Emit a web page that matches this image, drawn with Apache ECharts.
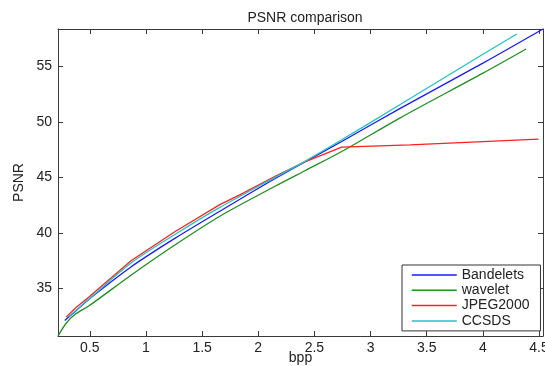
<!DOCTYPE html>
<html>
<head>
<meta charset="utf-8">
<script src="https://cdn.jsdelivr.net/npm/echarts@6/dist/echarts.min.js"></script>
<style>html,body{margin:0;padding:0;background:#fff;}#c{width:545px;height:366px;}</style>
</head>
<body>
<div id="c"></div>
<script>
var xTicks = [0.5, 1, 1.5, 2, 2.5, 3, 3.5, 4, 4.5];
var yTicks = [35, 40, 45, 50, 55];
var xRange = [0.217, 4.535];
var yRange = [30.7, 58.38];

var bandelets = [[0.277,32.1],[0.375,32.95],[0.49,34.0],[0.87,36.95],[1.257,39.5],[1.658,41.95],[2.15,44.9],[2.415,46.4],[2.743,48.24],[3.26,51.2],[4.0,55.3],[4.535,58.38]];
var wavelet = [[0.217,30.7],[0.29,31.85],[0.375,32.7],[0.49,33.4],[0.87,36.2],[1.257,38.9],[1.658,41.5],[2.15,44.2],[2.415,45.6],[2.743,47.33],[3.26,50.35],[4.0,54.4],[4.385,56.58]];
var jpeg2000 = [[0.29,32.4],[0.375,33.25],[0.49,34.2],[0.87,37.5],[1.257,40.1],[1.658,42.55],[1.84,43.45],[2.15,45.1],[2.415,46.4],[2.743,47.73],[3.35,47.94],[4.495,48.45]];
var ccsds = [[0.315,32.45],[0.375,33.0],[0.49,34.0],[0.87,37.3],[1.257,39.85],[1.658,42.3],[2.15,45.0],[2.415,46.45],[2.743,48.39],[3.26,51.55],[4.0,56.1],[4.302,57.93]];

var names = ['Bandelets','wavelet','JPEG2000','CCSDS'];
var colors = ['#1a1aff','#1f8f1f','#ff2020','#20c4c4'];
var smoothing = [0.3, 0.3, false, 0.3];
var seriesData = [bandelets, wavelet, jpeg2000, ccsds];

var font = 'Liberation Sans, Arial, Helvetica, sans-serif';
var axisCol = '#3a3a3a';

var chart = echarts.init(document.getElementById('c'), null, {renderer:'canvas'});
function mkX(pos, show){
  return {
    type:'value', position:pos, min:xRange[0], max:xRange[1],
    name: show ? 'bpp' : '', nameLocation:'middle', nameGap:15, nameMoveOverlap:false,
    nameTextStyle:{fontFamily:font, fontSize:14, color:'#222'},
    axisLine:{show:true, onZero:false, lineStyle:{color:axisCol, width:1}},
    axisTick:{show:true, inside:true, length:5, customValues:xTicks, lineStyle:{color:axisCol}},
    axisLabel:{show:show, customValues:xTicks, margin:5, fontFamily:font, fontSize:14, color:'#222',
      formatter:function(v){return String(v);}},
    splitLine:{show:false}
  };
}
function mkY(pos, show){
  return {
    type:'value', position:pos, min:yRange[0], max:yRange[1],
    name: show ? 'PSNR' : '', nameLocation:'middle', nameGap:32, nameMoveOverlap:false,
    nameTextStyle:{fontFamily:font, fontSize:14, color:'#222'},
    axisLine:{show:true, onZero:false, lineStyle:{color:axisCol, width:1}},
    axisTick:{show:true, inside:true, length:5, customValues:yTicks, lineStyle:{color:axisCol}},
    axisLabel:{show:show, customValues:yTicks, margin:6, fontFamily:font, fontSize:14, color:'#222'},
    splitLine:{show:false}
  };
}
var series = names.map(function(n, i){
  return {
    name:n, type:'line', data:seriesData[i], symbol:'none', showSymbol:false,
    smooth:smoothing[i],
    lineStyle:{color:colors[i], width:1.3}, itemStyle:{color:colors[i]},
    xAxisIndex:0, yAxisIndex:0, clip:true, animation:false
  };
});
chart.setOption({
  animation:false,
  backgroundColor:'#fff',
  title:{text:'PSNR comparison', left:300, top:6, textAlign:'center',
    textStyle:{fontFamily:font, fontSize:14, fontWeight:'normal', color:'#222'}},
  grid:{left:58, top:29, right:2, bottom:30, containLabel:false, outerBoundsMode:'none'},
  xAxis:[mkX('bottom', true), mkX('top', false)],
  yAxis:[mkY('left', true), mkY('right', false)],
  legend:{
    orient:'vertical', left:402, top:265,
    data:names,
    itemStyle:{color:'rgba(0,0,0,0)', borderWidth:0},
    lineStyle:{width:1.5},
    backgroundColor:'#fff', borderColor:'#333', borderWidth:1,
    padding:[3,11,3,9], itemWidth:45, itemHeight:14, itemGap:1.3,
    textStyle:{fontFamily:font, fontSize:14, color:'#222'}
  },
  series:series
});
</script>
</body>
</html>
